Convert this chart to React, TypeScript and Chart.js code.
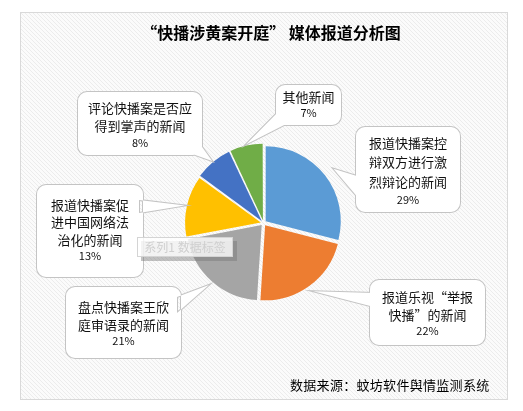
import { useEffect, useRef } from "react";
import { Chart, registerables } from "chart.js";

Chart.register(...registerables);

const chartTitle = "“快播涉黄案开庭” 媒体报道分析图";
const sourceNote = "数据来源：蚊坊软件舆情监测系统";
const ghostLabel = "系列1 数据标签";

const categories = [
  "报道快播案控辩双方进行激烈辩论的新闻",
  "报道乐视“举报快播”的新闻",
  "盘点快播案王欣庭审语录的新闻",
  "报道快播案促进中国网络法治化的新闻",
  "评论快播案是否应得到掌声的新闻",
  "其他新闻",
];
const categoryLines = [
  ["报道快播案控", "辩双方进行激", "烈辩论的新闻"],
  ["报道乐视“举报", "快播”的新闻"],
  ["盘点快播案王欣", "庭审语录的新闻"],
  ["报道快播案促", "进中国网络法", "治化的新闻"],
  ["评论快播案是否应", "得到掌声的新闻"],
  ["其他新闻"],
];
const shares = [29, 22, 21, 13, 8, 7];
const sliceColors = ["#5B9BD5", "#ED7D31", "#A5A5A5", "#FFC000", "#4472C4", "#70AD47"];

// callout layout (box rectangle, tail base points, first text line y, line step)
const callouts = [
  { x: 356, y: 127, w: 104, h: 85, b: [[360, 177], [360, 200]], ty: 143, step: 19.5, extra: 8 },
  { x: 370, y: 280, w: 115, h: 65, b: [[374, 293], [374, 307]], ty: 297, step: 18, extra: 4 },
  { x: 66, y: 287, w: 115, h: 71, b: [[177, 297], [177, 313]], ty: 307, step: 18, extra: 2 },
  { x: 37, y: 185, w: 106, h: 92, b: [[139, 200], [139, 213]], ty: 205, step: 17.5, extra: 0 },
  { x: 78, y: 92, w: 124, h: 63, b: [[184, 151], [197, 140]], ty: 108, step: 18.5, extra: 0 },
  { x: 276, y: 85, w: 65, h: 40, b: [[280, 110], [292, 121]], ty: 97, step: 18, extra: 0 },
];

const CJK = '"Noto Sans CJK SC", "Noto Sans", sans-serif';
const OFFSET = 11;

function rr(ctx: CanvasRenderingContext2D, x: number, y: number, w: number, h: number, r: number) {
  ctx.moveTo(x + r, y);
  ctx.lineTo(x + w - r, y);
  ctx.arcTo(x + w, y, x + w, y + r, r);
  ctx.lineTo(x + w, y + h - r);
  ctx.arcTo(x + w, y + h, x + w - r, y + h, r);
  ctx.lineTo(x + r, y + h);
  ctx.arcTo(x, y + h, x, y + h - r, r);
  ctx.lineTo(x, y + r);
  ctx.arcTo(x, y, x + r, y, r);
  ctx.closePath();
}

const decor = {
  id: "decor",
  beforeDraw(chart: any) {
    const ctx: CanvasRenderingContext2D = chart.ctx;
    ctx.save();
    ctx.fillStyle = "#ffffff";
    ctx.fillRect(0, 0, chart.width, chart.height);
    // hatched frame
    const fx = 20, fy = 12, fw = 488, fh = 388;
    ctx.fillStyle = "#fbfbfb";
    ctx.fillRect(fx, fy, fw, fh);
    ctx.beginPath();
    ctx.rect(fx, fy, fw, fh);
    ctx.clip();
    ctx.strokeStyle = "#ececec";
    ctx.lineWidth = 1;
    ctx.beginPath();
    for (let k = -fh; k < fw + fh; k += 4) {
      ctx.moveTo(fx + k, fy);
      ctx.lineTo(fx + k + fh, fy + fh);
    }
    ctx.stroke();
    ctx.restore();
    ctx.save();
    ctx.strokeStyle = "#d9d9d9";
    ctx.lineWidth = 1;
    ctx.strokeRect(fx + 0.5, fy + 0.5, fw - 1, fh - 1);
    // title
    ctx.fillStyle = "#000";
    ctx.textAlign = "center";
    ctx.textBaseline = "middle";
    ctx.font = `bold 16px ${CJK}`;
    ctx.fillText(chartTitle, 271, 33);
    // source
    ctx.font = `13px ${CJK}`;
    ctx.textAlign = "left";
    (ctx as any).letterSpacing = "0.3px";
    ctx.fillText(sourceNote, 290, 385);
    (ctx as any).letterSpacing = "0px";
    ctx.restore();
  },
  afterDatasetsDraw(chart: any) {
    const ctx: CanvasRenderingContext2D = chart.ctx;
    const meta = chart.getDatasetMeta(0);
    ctx.save();
    meta.data.forEach((arc: any, i: number) => {
      const c = callouts[i];
      const { x, y, startAngle, endAngle, outerRadius } = arc.getProps(["x", "y", "startAngle", "endAngle", "outerRadius"], true);
      const mid = (startAngle + endAngle) / 2;
      const r = outerRadius + OFFSET / 2 + c.extra;
      const tx = x + Math.cos(mid) * r;
      const ty = y + Math.sin(mid) * r;
      ctx.beginPath();
      rr(ctx, c.x, c.y, c.w, c.h, 9);
      ctx.moveTo(tx, ty);
      ctx.lineTo(c.b[0][0], c.b[0][1]);
      ctx.lineTo(c.b[1][0], c.b[1][1]);
      ctx.closePath();
      ctx.strokeStyle = "#c4c4c4";
      ctx.lineWidth = 2;
      ctx.stroke();
      ctx.fillStyle = "#ffffff";
      ctx.fill();
      // text
      ctx.fillStyle = "#111";
      ctx.textAlign = "center";
      ctx.textBaseline = "middle";
      const cx = c.x + c.w / 2;
      const lines = categoryLines[i];
      ctx.font = `13px ${CJK}`;
      lines.forEach((ln, j) => ctx.fillText(ln, cx, c.ty + j * c.step));
      ctx.font = `11px ${CJK}`;
      ctx.fillText(`${shares[i]}%`, cx, c.ty + lines.length * c.step - 2);
    });
    // ghost data label placeholder
    ctx.fillStyle = "rgba(120,120,120,0.45)";
    ctx.fillRect(141, 241, 96, 20);
    ctx.fillStyle = "rgba(255,255,255,0.8)";
    ctx.fillRect(137, 237, 96, 20);
    ctx.strokeStyle = "#d4d4d4";
    ctx.lineWidth = 1;
    ctx.strokeRect(137.5, 237.5, 95, 19);
    ctx.fillStyle = "#cfcfcf";
    ctx.font = `12px ${CJK}`;
    ctx.textAlign = "center";
    ctx.textBaseline = "middle";
    ctx.fillText(ghostLabel, 185, 247);
    ctx.restore();
  },
};

export default function App() {
  const ref = useRef<HTMLCanvasElement | null>(null);
  useEffect(() => {
    if (!ref.current) return;
    const chart = new Chart(ref.current, {
      type: "pie",
      data: {
        labels: categories,
        datasets: [
          {
            data: shares,
            backgroundColor: sliceColors,
            borderWidth: 0,
            offset: OFFSET,
          },
        ],
      },
      options: {
        responsive: false,
        devicePixelRatio: 1,
        animation: false,
        events: [],
        layout: { padding: { left: 183, right: 179, top: 142.5, bottom: 107.5 } },
        plugins: { legend: { display: false }, title: { display: false }, tooltip: { enabled: false } },
      },
      plugins: [decor],
    });
    return () => chart.destroy();
  }, []);
  return (
    <div style={{ position: "absolute", left: 0, top: 0, width: 523, height: 411 }}>
      <canvas ref={ref} width={523} height={411} style={{ display: "block", width: 523, height: 411 }} />
    </div>
  );
}
